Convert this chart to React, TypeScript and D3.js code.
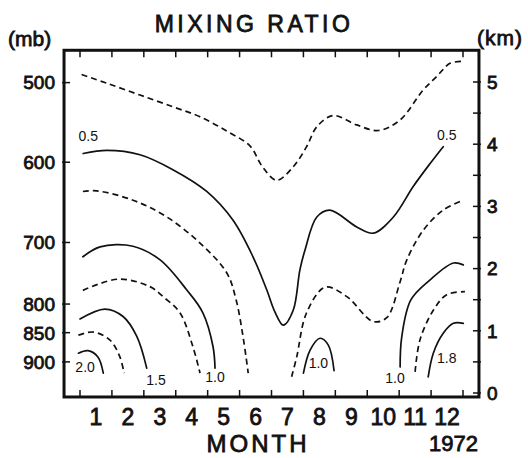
import React from "react";
import * as d3 from "d3";

// ---------- data (month, height km) ----------
const monthLabels = ["1", "2", "3", "4", "5", "6", "7", "8", "9", "10", "11", "12"];
const monthValues = [1, 2, 3, 4, 5, 6, 7, 8, 9, 10, 11, 12];
const monthBoundaries = [0.5, 1.5, 2.5, 3.5, 4.5, 5.5, 6.5, 7.5, 8.5, 9.5, 10.5, 11.5, 12.5];

const pressureLabels = ["500", "600", "700", "800", "850", "900"];
const pressureKm = [4.99, 3.71, 2.42, 1.43, 0.97, 0.5];

const kmLabels = ["0", "1", "2", "3", "4", "5"];
const kmValues = [0, 1, 2, 3, 4, 5];
const kmMinor = [0.5, 1.5, 2.5, 3.5, 4.5];

// contour lines: [month, km]
const c025: [number, number][] = [
  [0.55, 5.12], [1.34, 4.98], [2.38, 4.79], [3.42, 4.6], [4.26, 4.44], [5.1, 4.21],
  [5.83, 3.97], [6.2, 3.65], [6.66, 3.42], [7.17, 3.63], [7.6, 3.96], [7.92, 4.28],
  [8.43, 4.46], [9.17, 4.31], [9.85, 4.22], [10.53, 4.39], [11.25, 4.87], [11.68, 5.09],
  [12.09, 5.3], [12.44, 5.33],
];
const c050: [number, number][] = [
  [0.6, 3.85], [1.34, 3.9], [2.38, 3.83], [3.41, 3.59], [4.47, 3.24], [5.29, 2.78],
  [5.92, 2.19], [6.35, 1.66], [6.61, 1.3], [6.87, 1.09], [7.18, 1.33], [7.39, 1.98],
  [7.55, 2.3], [7.92, 2.83], [8.33, 2.94], [9.17, 2.67], [9.69, 2.57], [10.32, 2.83],
  [10.94, 3.32], [11.47, 3.69], [11.88, 3.96],
];
const c075a: [number, number][] = [
  [0.59, 3.24], [1.02, 3.25], [2.16, 3.1], [3.22, 2.83], [4.26, 2.41], [5.1, 1.93],
  [5.39, 1.5], [5.61, 0.9], [5.77, 0.32],
];
const c075b: [number, number][] = [
  [7.13, 0.26], [7.29, 0.58], [7.6, 1.29], [8.18, 1.7], [8.86, 1.55], [9.68, 1.15],
  [10.11, 1.21], [10.53, 1.79], [10.74, 2.14], [11.26, 2.62], [11.88, 2.94], [12.51, 3.1],
];
const c100a: [number, number][] = [
  [0.59, 2.19], [1.13, 2.35], [2.16, 2.36], [3.01, 2.14], [3.84, 1.66], [4.35, 1.29],
  [4.67, 0.74], [4.73, 0.4],
];
const c100b: [number, number][] = [
  [7.5, 0.32], [7.71, 0.69], [8.02, 0.88], [8.28, 0.77], [8.46, 0.36],
];
const c100c: [number, number][] = [
  [10.53, 0.42], [10.58, 0.9], [10.87, 1.5], [11.47, 1.82], [12.2, 2.09], [12.51, 2.06],
];
const c125a: [number, number][] = [
  [0.59, 1.65], [1.7, 1.83], [2.69, 1.71], [3.1, 1.55], [3.63, 1.29], [4.04, 0.74], [4.26, 0.32],
];
const c125b: [number, number][] = [
  [11.0, 0.34], [11.15, 0.85], [11.57, 1.33], [11.99, 1.58], [12.56, 1.63],
];
const c150a: [number, number][] = [
  [0.5, 1.19], [1.28, 1.35], [1.85, 1.23], [2.28, 0.91], [2.59, 0.4],
];
const c150b: [number, number][] = [
  [11.41, 0.26], [11.57, 0.64], [11.88, 0.96], [12.2, 1.12], [12.51, 1.12],
];
const c175: [number, number][] = [
  [0.45, 0.93], [0.91, 0.98], [1.44, 0.85], [1.75, 0.58], [1.88, 0.32],
];
const c200: [number, number][] = [
  [0.45, 0.64], [0.75, 0.68], [1.06, 0.58], [1.23, 0.32],
];

const solidLines = [c050, c100a, c100b, c100c, c150a, c150b, c200];
const dashedLines = [c025, c075a, c075b, c125a, c125b, c175];

const contourLabelTexts = ["0.5", "0.5", "2.0", "1.5", "1.0", "1.0", "1.0", "1.8"];
const contourLabelMonths = [0.76, 11.99, 0.66, 2.88, 4.73, 7.97, 10.37, 11.99];
const contourLabelKms = [4.13, 4.15, 0.42, 0.21, 0.26, 0.48, 0.24, 0.56];

// ---------- layout ----------
const W = 528;
const H = 458;
const x = d3.scaleLinear().domain([0.5, 12.5]).range([80, 463]);
const y = d3.scaleLinear().domain([0, 5]).range([393, 82]);
const FRAME_M0 = 0;
const FRAME_M1 = 13;
const FRAME_K0 = -0.064;
const FRAME_K1 = 5.51;

const line = d3
  .line<[number, number]>()
  .x((d) => x(d[0]))
  .y((d) => y(d[1]))
  .curve(d3.curveCatmullRom.alpha(0.5));

const FONT = "'Liberation Sans', Arial, sans-serif";

export default function App() {
  const fx0 = x(FRAME_M0);
  const fx1 = x(FRAME_M1);
  const fy0 = y(FRAME_K1);
  const fy1 = y(FRAME_K0);
  const heavy = { stroke: "#111", strokeWidth: 0.8 } as const;

  return (
    <div style={{ position: "absolute", left: 0, top: 0 }}>
      <svg width={W} height={H} viewBox={`0 0 ${W} ${H}`} style={{ display: "block", background: "#fff" }}>
        <rect x={0} y={0} width={W} height={H} fill="#fff" />

        {/* contours */}
        <g fill="none" stroke="#111" strokeWidth={1.7} strokeLinecap="round">
          {solidLines.map((d, i) => (
            <path key={"s" + i} d={line(d) || ""} />
          ))}
          {dashedLines.map((d, i) => (
            <path key={"d" + i} d={line(d) || ""} strokeDasharray="6,4" strokeLinecap="butt" />
          ))}
        </g>

        {/* contour labels */}
        <g fontFamily={FONT} fontSize={14} fill="#111" textAnchor="middle">
          {contourLabelTexts.map((t, i) => (
            <text key={i} x={x(contourLabelMonths[i])} y={y(contourLabelKms[i])} dy="0.36em">
              {t}
            </text>
          ))}
        </g>

        {/* frame */}
        <rect x={fx0} y={fy0} width={fx1 - fx0} height={fy1 - fy0} fill="none" stroke="#111" strokeWidth={3} />

        {/* ticks */}
        <g stroke="#111" strokeWidth={1.5}>
          {monthBoundaries.map((m, i) => (
            <g key={i}>
              <line x1={x(m)} x2={x(m)} y1={fy1} y2={fy1 - 7} />
              <line x1={x(m)} x2={x(m)} y1={fy0} y2={fy0 + 7} />
            </g>
          ))}
          {pressureKm.map((k, i) => (
            <line key={"p" + i} x1={fx0 - 2} x2={fx0 + 6} y1={y(k)} y2={y(k)} />
          ))}
          {kmValues.concat(kmMinor).map((k, i) => (
            <line key={"k" + i} x1={fx1 - 6} x2={fx1 + 2} y1={y(k)} y2={y(k)} />
          ))}
        </g>

        {/* month labels */}
        <g fontFamily={FONT} fontSize={23} fill="#111" textAnchor="middle" {...heavy}>
          {monthValues.map((m, i) => (
            <text key={i} x={x(m)} y={425}>
              {monthLabels[i]}
            </text>
          ))}
        </g>

        {/* pressure labels */}
        <g fontFamily={FONT} fontSize={19} fill="#111" textAnchor="end" {...heavy}>
          {pressureKm.map((k, i) => (
            <text key={i} x={55} y={y(k)} dy="0.36em">
              {pressureLabels[i]}
            </text>
          ))}
        </g>

        {/* km labels */}
        <g fontFamily={FONT} fontSize={19} fill="#111" textAnchor="start" {...heavy}>
          {kmValues.map((k, i) => (
            <text key={i} x={487} y={y(k)} dy="0.36em">
              {kmLabels[i]}
            </text>
          ))}
        </g>

        {/* titles */}
        <g fontFamily={FONT} fill="#111" {...heavy}>
          <text x={254} y={32} fontSize={23} textAnchor="middle" letterSpacing={3.5}>
            MIXING RATIO
          </text>
          <text x={8} y={46} fontSize={21}>
            (mb)
          </text>
          <text x={477} y={45} fontSize={21} letterSpacing={1}>
            (km)
          </text>
          <text x={258} y={452} fontSize={24} textAnchor="middle" letterSpacing={3}>
            MONTH
          </text>
          <text x={478} y={451} fontSize={22} textAnchor="end">
            1972
          </text>
        </g>
      </svg>
    </div>
  );
}
